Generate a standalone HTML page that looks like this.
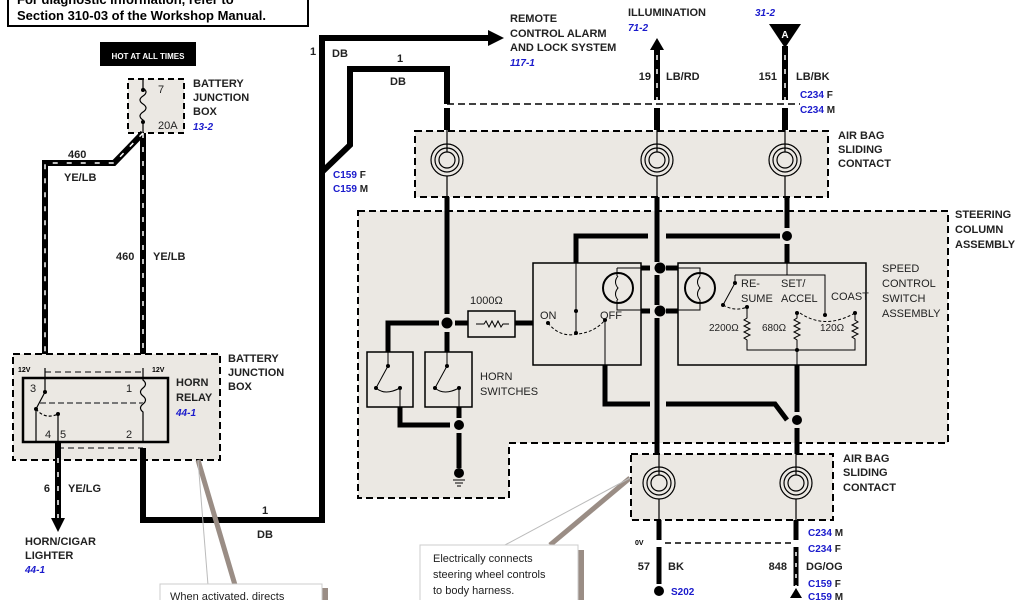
<!DOCTYPE html>
<html><head><meta charset="utf-8"><style>
html,body{margin:0;padding:0;background:#fff;}
svg{display:block;font-family:"Liberation Sans",sans-serif;}
.l{font-size:11px;font-weight:bold;fill:#222;}
.b{font-size:10px;font-weight:bold;font-style:italic;fill:#1a1acc;}
.bn{font-size:10px;font-weight:bold;fill:#1a1acc;}
.n{font-size:11px;fill:#222;}
</style></head><body>
<svg width="1024" height="600" viewBox="0 0 1024 600">
<!-- header box -->
<rect x="8" y="-6" width="300" height="32" fill="#fff" stroke="#000" stroke-width="2"/>
<text x="17" y="4" style="font-size:13px;font-weight:bold">For diagnostic information, refer to</text>
<text x="17" y="20" style="font-size:13px;font-weight:bold">Section 310-03 of the Workshop Manual.</text>

<rect x="100" y="42" width="96" height="24" fill="#000"/>
<text x="148" y="59" text-anchor="middle" style="font-size:8px;font-weight:bold;fill:#fff">HOT AT ALL TIMES</text>

<rect x="128" y="79" width="56" height="54" fill="#ebe8e3" stroke="#000" stroke-width="2" stroke-dasharray="6,4"/>
<path d="M143,80 V88 q6,4 0,8 q-6,4 0,8 q6,4 0,8 q-6,4 0,8 V133" fill="none" stroke="#000" stroke-width="1.2"/>
<circle cx="143" cy="90" r="2"/><circle cx="143" cy="122" r="2"/>
<text x="158" y="93" class="n">7</text>
<text x="158" y="129" class="n">20A</text>
<text x="193" y="87" class="l">BATTERY</text>
<text x="193" y="101" class="l">JUNCTION</text>
<text x="193" y="115" class="l">BOX</text>
<text x="193" y="130" class="b">13-2</text>

<g fill="none">
<path d="M143,133 V368 M143,133 L114,163 H45 V368" stroke="#000" stroke-width="6"/>
<path d="M143,133 V368 M143,133 L114,163 H45 V368" stroke="#fff" stroke-width="1.5" stroke-dasharray="5,9"/>
</g>
<text x="68" y="158" class="l">460</text>
<text x="64" y="181" class="l">YE/LB</text>
<text x="116" y="260" class="l">460</text>
<text x="153" y="260" class="l">YE/LB</text>

<rect x="13" y="354" width="207" height="106" fill="#ebe8e3" stroke="#000" stroke-width="2" stroke-dasharray="7,4"/>
<line x1="45" y1="372" x2="143" y2="372" stroke="#777" stroke-width="2" stroke-dasharray="6,4"/>
<line x1="58" y1="448" x2="143" y2="448" stroke="#777" stroke-width="2" stroke-dasharray="6,4"/>
<rect x="23" y="378" width="145" height="64" fill="none" stroke="#000" stroke-width="2.5"/>
<text x="18" y="372" style="font-size:7px;font-weight:bold">12V</text>
<text x="152" y="372" style="font-size:7px;font-weight:bold">12V</text>
<g stroke="#000" stroke-width="1.2" fill="none">
<path d="M45,368 V392"/><path d="M45,392 L36,409"/><path d="M36,409 Q45,420 58,414" stroke-dasharray="3,2"/>
<path d="M36,409 V441"/><path d="M58,414 V441"/>
<path d="M143,368 V380 q5,4 0,8 q-5,4 0,8 q5,4 0,8 q-5,4 0,8 V442"/>
<line x1="40" y1="403" x2="143" y2="403" stroke="#777" stroke-width="2" stroke-dasharray="6,3"/>
</g>
<circle cx="45" cy="392" r="2"/><circle cx="36" cy="409" r="2"/><circle cx="58" cy="414" r="2"/>
<text x="30" y="392" class="n">3</text><text x="126" y="392" class="n">1</text>
<text x="45" y="438" class="n">4</text><text x="60" y="438" class="n">5</text><text x="126" y="438" class="n">2</text>
<text x="176" y="386" class="l">HORN</text>
<text x="176" y="401" class="l">RELAY</text>
<text x="176" y="416" class="b">44-1</text>
<text x="228" y="362" class="l">BATTERY</text>
<text x="228" y="376" class="l">JUNCTION</text>
<text x="228" y="390" class="l">BOX</text>

<path d="M58,442 V520" fill="none" stroke="#000" stroke-width="6"/>
<path d="M58,458 V520" stroke="#fff" stroke-width="1.5" stroke-dasharray="5,9"/>
<path d="M51,518 L65,518 L58,532 z" fill="#000"/>
<text x="50" y="492" text-anchor="end" class="l">6</text>
<text x="68" y="492" class="l">YE/LG</text>
<text x="25" y="545" class="l">HORN/CIGAR</text>
<text x="25" y="559" class="l">LIGHTER</text>
<text x="25" y="573" class="b">44-1</text>

<path d="M143,448 V520 H322 V38 H490" fill="none" stroke="#000" stroke-width="6"/>
<path d="M488,30 L504,38 L488,46 z"/>
<text x="262" y="514" class="l">1</text>
<text x="257" y="538" class="l">DB</text>
<text x="310" y="55" class="l">1</text>
<text x="332" y="57" class="l">DB</text>
<path d="M322,172 L350,145 V69 H447 V104" fill="none" stroke="#000" stroke-width="6"/>
<text x="397" y="62" class="l">1</text>
<text x="390" y="85" class="l">DB</text>
<text x="333" y="178" class="bn">C159 <tspan fill="#222">F</tspan></text>
<text x="333" y="192" class="bn">C159 <tspan fill="#222">M</tspan></text>

<text x="510" y="22" class="l">REMOTE</text>
<text x="510" y="37" class="l">CONTROL ALARM</text>
<text x="510" y="51" class="l">AND LOCK SYSTEM</text>
<text x="510" y="66" class="b">117-1</text>
<text x="628" y="16" class="l">ILLUMINATION</text>
<text x="628" y="31" class="b">71-2</text>
<text x="755" y="16" class="b">31-2</text>
<path d="M769,24 L801,24 L785,48 z"/>
<text x="785" y="38" text-anchor="middle" style="font-size:10px;font-weight:bold;fill:#fff">A</text>

<line x1="447" y1="104" x2="800" y2="104" stroke="#000" stroke-width="1.5" stroke-dasharray="7,4"/>
<path d="M657,100 V48 M785,46 V100" stroke="#000" stroke-width="6"/>
<path d="M657,55 V100 M785,55 V100" stroke="#fff" stroke-width="1.5" stroke-dasharray="5,9"/>
<path d="M650,50 L657,38 L664,50 z"/>
<path d="M447,108 V130 M657,108 V130 M785,108 V130" stroke="#000" stroke-width="6"/>
<text x="651" y="80" text-anchor="end" class="l">19</text>
<text x="666" y="80" class="l">LB/RD</text>
<text x="777" y="80" text-anchor="end" class="l">151</text>
<text x="796" y="80" class="l">LB/BK</text>
<text x="800" y="98" class="bn">C234 <tspan fill="#222">F</tspan></text>
<text x="800" y="113" class="bn">C234 <tspan fill="#222">M</tspan></text>

<rect x="415" y="131" width="413" height="66" fill="#ebe8e3" stroke="#000" stroke-width="2" stroke-dasharray="7,4"/>
<g fill="none" stroke="#000" stroke-width="1.2">
<circle cx="447" cy="160" r="16"/><circle cx="447" cy="160" r="12"/><circle cx="447" cy="160" r="8"/>
<circle cx="657" cy="160" r="16"/><circle cx="657" cy="160" r="12"/><circle cx="657" cy="160" r="8"/>
<circle cx="785" cy="160" r="16"/><circle cx="785" cy="160" r="12"/><circle cx="785" cy="160" r="8"/>
<path d="M447,130 V152 M447,176 V200 M657,130 V152 M657,176 V200 M785,130 V152 M785,176 V200"/>
</g>
<text x="838" y="139" class="l">AIR BAG</text>
<text x="838" y="153" class="l">SLIDING</text>
<text x="838" y="167" class="l">CONTACT</text>

<path d="M358,211 H948 V443 H509 V498 H358 Z" fill="#ebe8e3" stroke="#000" stroke-width="2" stroke-dasharray="7,4"/>
<text x="955" y="218" class="l">STEERING</text>
<text x="955" y="233" class="l">COLUMN</text>
<text x="955" y="248" class="l">ASSEMBLY</text>

<path d="M447,197 V314 M447,332 V352 M657,197 V262 M657,275 V305 M657,318 V455 M787,197 V228" stroke="#000" stroke-width="5"/>
<path d="M787,244 V263" stroke="#000" stroke-width="5"/>
<circle cx="787" cy="236" r="5"/>
<path d="M576,263 V236 H648 M666,236 H780" fill="none" stroke="#000" stroke-width="5"/>
<circle cx="447" cy="323" r="5.5"/>
<path d="M388,352 V323 H439 M455,323 H533" fill="none" stroke="#000" stroke-width="5"/>
<rect x="468" y="311" width="47" height="26" fill="#ebe8e3" stroke="#000" stroke-width="1.5"/>
<path d="M476,324 h8 l2,-3 l3,6 l3,-6 l3,6 l3,-6 l3,6 l2,-3 h6" fill="none" stroke="#000" stroke-width="1"/>
<text x="470" y="304" class="n">1000Ω</text>
<rect x="367" y="352" width="46" height="55" fill="none" stroke="#000" stroke-width="1.5"/>
<rect x="425" y="352" width="47" height="55" fill="none" stroke="#000" stroke-width="1.5"/>
<g stroke="#000" stroke-width="1" fill="none">
<path d="M388,352 V366 L376,388 M376,388 Q385,396 400,388" />
<path d="M447,352 V366 L435,388 M435,388 Q444,396 459,388"/>
<path d="M400,388 V407 M459,388 V407"/>
</g>
<circle cx="388" cy="366" r="2"/><circle cx="376" cy="388" r="2"/><circle cx="400" cy="388" r="2"/>
<circle cx="447" cy="366" r="2"/><circle cx="435" cy="388" r="2"/><circle cx="459" cy="388" r="2"/>
<path d="M400,407 V425 H450 M459,407 V418" fill="none" stroke="#000" stroke-width="5"/>
<circle cx="459" cy="425" r="5"/>
<path d="M459,433 V468" stroke="#000" stroke-width="5"/>
<circle cx="459" cy="473" r="5"/>
<path d="M453,480 h12 M455,483 h8 M457,486 h4" stroke="#000" stroke-width="1"/>
<text x="480" y="380" class="n">HORN</text>
<text x="480" y="395" class="n">SWITCHES</text>

<rect x="533" y="263" width="108" height="102" fill="none" stroke="#000" stroke-width="1.5"/>
<circle cx="618" cy="288" r="15" fill="none" stroke="#000" stroke-width="2"/>
<path d="M618,276 q-5,6 0,12 q-5,6 0,12" fill="none" stroke="#000" stroke-width="1"/>
<path d="M617,268 H641 M617,268 V276 M617,300 V310 H641" fill="none" stroke="#000" stroke-width="1"/>
<path d="M641,268 H650 M666,268 H678 M641,311 H650 M666,311 H678" stroke="#000" stroke-width="5"/>
<circle cx="660" cy="268" r="5.5"/><circle cx="660" cy="311" r="5.5"/>
<g stroke="#000" stroke-width="1" fill="none">
<path d="M576,263 V333"/>
<path d="M548,323 Q560,338 578,334 Q595,332 605,320" stroke-dasharray="3,2"/>
<path d="M605,320 V375"/>
</g>
<circle cx="576" cy="311" r="2"/><circle cx="548" cy="323" r="2"/><circle cx="576" cy="333" r="2"/><circle cx="605" cy="320" r="2"/>
<text x="540" y="319" class="n">ON</text>
<text x="600" y="319" class="n">OFF</text>
<path d="M605,365 V404 H650 M666,404 H775 L787,420" fill="none" stroke="#000" stroke-width="5"/>
<circle cx="797" cy="420" r="5"/>
<path d="M797,365 V412 M797,428 V455" stroke="#000" stroke-width="5"/>

<rect x="678" y="263" width="188" height="102" fill="none" stroke="#000" stroke-width="1.5"/>
<circle cx="700" cy="288" r="15" fill="none" stroke="#000" stroke-width="2"/>
<path d="M700,276 q-5,6 0,12 q-5,6 0,12" fill="none" stroke="#000" stroke-width="1"/>
<path d="M678,268 H700 V276 M700,300 V310 H678" fill="none" stroke="#000" stroke-width="1"/>
<g stroke="#000" stroke-width="1" fill="none">
<path d="M787,263 V275 M735,275 H825 V315"/>
<path d="M735,275 V283 L723,305"/>
<path d="M723,305 Q735,312 747,307" stroke-dasharray="3,2"/>
<path d="M800,313 Q825,330 855,313" stroke-dasharray="3,2"/>
<path d="M747,307 V318 l-3,2 l6,3 l-6,3 l6,3 l-6,3 l6,3 l-6,3 l3,2 V350 H855 V339 l-3,-2 l6,-3 l-6,-3 l6,-3 l-6,-3 l6,-3 l-3,-2 V313"/>
<path d="M797,313 V318 l-3,2 l6,3 l-6,3 l6,3 l-6,3 l6,3 l-6,3 l3,2 V365"/>
</g>
<circle cx="735" cy="283" r="2"/><circle cx="723" cy="305" r="2"/><circle cx="747" cy="307" r="2"/>
<circle cx="825" cy="315" r="2"/><circle cx="855" cy="313" r="2"/><circle cx="797" cy="313" r="2"/><circle cx="797" cy="350" r="2"/>
<text x="741" y="287" class="n">RE-</text>
<text x="741" y="302" class="n">SUME</text>
<text x="781" y="287" class="n">SET/</text>
<text x="781" y="302" class="n">ACCEL</text>
<text x="831" y="300" class="n">COAST</text>
<text x="709" y="331" class="n" style="font-size:10px">2200Ω</text>
<text x="762" y="331" class="n" style="font-size:10px">680Ω</text>
<text x="820" y="331" class="n" style="font-size:10px">120Ω</text>
<text x="882" y="272" class="n">SPEED</text>
<text x="882" y="287" class="n">CONTROL</text>
<text x="882" y="302" class="n">SWITCH</text>
<text x="882" y="317" class="n">ASSEMBLY</text>

<rect x="631" y="454" width="202" height="66" fill="#ebe8e3" stroke="#000" stroke-width="2" stroke-dasharray="7,4"/>
<g fill="none" stroke="#000" stroke-width="1.2">
<circle cx="659" cy="483" r="16"/><circle cx="659" cy="483" r="12"/><circle cx="659" cy="483" r="8"/>
<circle cx="796" cy="483" r="16"/><circle cx="796" cy="483" r="12"/><circle cx="796" cy="483" r="8"/>
<path d="M659,454 V475 M659,499 V520 M796,454 V475 M796,499 V520"/>
</g>
<text x="843" y="462" class="l">AIR BAG</text>
<text x="843" y="476" class="l">SLIDING</text>
<text x="843" y="491" class="l">CONTACT</text>
<path d="M659,520 V540 M796,520 V540 M659,547 V584 M796,547 V586" stroke="#000" stroke-width="5"/>
<path d="M796,552 V586" stroke="#fff" stroke-width="1.5" stroke-dasharray="4,7"/>
<line x1="665" y1="543" x2="792" y2="543" stroke="#000" stroke-width="1.5" stroke-dasharray="6,4"/>
<circle cx="659" cy="591" r="5"/>
<path d="M796,588 L790,598 H802 Z"/>
<text x="635" y="545" style="font-size:7px;font-weight:bold">0V</text>
<text x="650" y="570" text-anchor="end" class="l">57</text>
<text x="668" y="570" class="l">BK</text>
<text x="787" y="570" text-anchor="end" class="l">848</text>
<text x="806" y="570" class="l">DG/OG</text>
<text x="808" y="536" class="bn">C234 <tspan fill="#222">M</tspan></text>
<text x="808" y="552" class="bn">C234 <tspan fill="#222">F</tspan></text>
<text x="808" y="587" class="bn">C159 <tspan fill="#222">F</tspan></text>
<text x="808" y="600" class="bn">C159 <tspan fill="#222">M</tspan></text>
<text x="671" y="595" class="bn">S202</text>

<path d="M198,460 L235,585" stroke="#9a8d85" stroke-width="5"/>
<path d="M198,460 L208,585" stroke="#bbb" stroke-width="1"/>
<rect x="322" y="588" width="6" height="20" fill="#9a8d85"/>
<rect x="160" y="584" width="162" height="30" fill="#fff" stroke="#ccc" stroke-width="1"/>
<text x="170" y="600" class="n" style="font-size:11px">When activated, directs</text>

<path d="M630,478 L550,545" stroke="#9a8d85" stroke-width="5"/>
<path d="M630,478 L505,545" stroke="#bbb" stroke-width="1"/>
<rect x="578" y="550" width="6" height="60" fill="#9a8d85"/>
<rect x="420" y="545" width="158" height="70" fill="#fff" stroke="#ccc" stroke-width="1"/>
<text x="433" y="562" class="n">Electrically connects</text>
<text x="433" y="578" class="n">steering wheel controls</text>
<text x="433" y="594" class="n">to body harness.</text>
</svg>
</body></html>
